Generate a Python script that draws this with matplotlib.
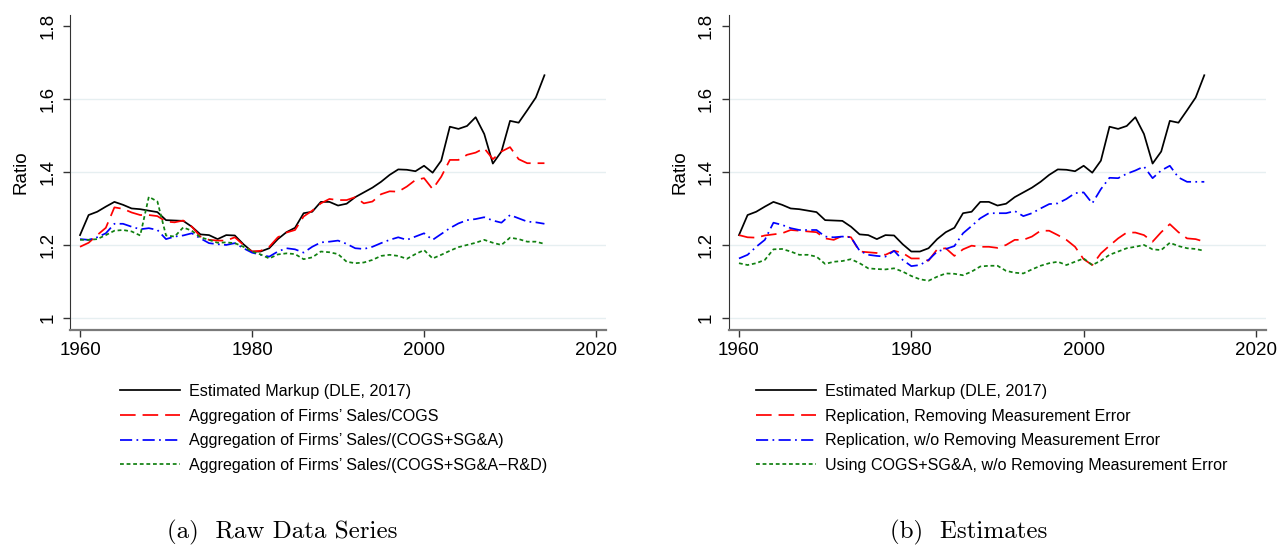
import numpy as np
import matplotlib; matplotlib.use("Agg")
import matplotlib.pyplot as plt

YEARS = list(range(1960, 2015))

# Estimated markup (DLE, 2017), same in both panels
dle = [1.227, 1.282, 1.291, 1.305, 1.318, 1.310, 1.300, 1.298, 1.294, 1.290,
       1.268, 1.267, 1.266, 1.250, 1.229, 1.227, 1.216, 1.227, 1.226, 1.202,
       1.182, 1.182, 1.191, 1.216, 1.235, 1.247, 1.287, 1.291, 1.318, 1.318,
       1.308, 1.313, 1.331, 1.344, 1.357, 1.373, 1.392, 1.407, 1.406, 1.402,
       1.417, 1.398, 1.431, 1.524, 1.518, 1.526, 1.550, 1.504, 1.423, 1.456,
       1.540, 1.535, 1.569, 1.604, 1.665]

# panel (a): raw data series
sales_cogs = [1.195, 1.206, 1.227, 1.247, 1.303, 1.299, 1.289, 1.282, 1.282, 1.279,
              1.264, 1.262, 1.267, 1.250, 1.223, 1.214, 1.212, 1.212, 1.221, 1.200,
              1.182, 1.184, 1.195, 1.221, 1.234, 1.241, 1.278, 1.294, 1.314, 1.326,
              1.323, 1.323, 1.331, 1.314, 1.319, 1.339, 1.347, 1.346, 1.360, 1.378,
              1.383, 1.353, 1.387, 1.433, 1.433, 1.447, 1.453, 1.465, 1.435, 1.456,
              1.468, 1.435, 1.424, 1.424, 1.424]
sales_cogs_sga = [1.216, 1.214, 1.221, 1.232, 1.258, 1.258, 1.250, 1.243, 1.246, 1.241,
                  1.216, 1.223, 1.226, 1.232, 1.218, 1.205, 1.202, 1.200, 1.205, 1.191,
                  1.179, 1.173, 1.168, 1.182, 1.191, 1.188, 1.179, 1.195, 1.207, 1.209,
                  1.212, 1.203, 1.191, 1.189, 1.195, 1.205, 1.214, 1.221, 1.214, 1.223,
                  1.232, 1.214, 1.230, 1.246, 1.259, 1.268, 1.271, 1.276, 1.267, 1.261,
                  1.282, 1.273, 1.264, 1.262, 1.258]
sales_cogs_sga_rd = [1.214, 1.214, 1.216, 1.227, 1.239, 1.241, 1.237, 1.226, 1.332, 1.319,
                     1.226, 1.223, 1.248, 1.239, 1.221, 1.214, 1.206, 1.207, 1.205, 1.195,
                     1.182, 1.174, 1.163, 1.174, 1.177, 1.175, 1.161, 1.166, 1.182, 1.180,
                     1.175, 1.154, 1.150, 1.152, 1.159, 1.170, 1.173, 1.170, 1.162, 1.175,
                     1.186, 1.163, 1.173, 1.184, 1.194, 1.200, 1.206, 1.214, 1.206, 1.200,
                     1.220, 1.216, 1.209, 1.209, 1.203]

# panel (b): estimates
repl_removing = [1.227, 1.221, 1.220, 1.226, 1.229, 1.232, 1.241, 1.239, 1.237, 1.235,
                 1.218, 1.214, 1.225, 1.221, 1.182, 1.180, 1.178, 1.173, 1.184, 1.178,
                 1.163, 1.163, 1.157, 1.188, 1.191, 1.170, 1.188, 1.198, 1.195, 1.195,
                 1.192, 1.200, 1.214, 1.214, 1.223, 1.239, 1.239, 1.227, 1.214, 1.195,
                 1.161, 1.145, 1.177, 1.198, 1.218, 1.234, 1.234, 1.227, 1.209, 1.235,
                 1.257, 1.235, 1.218, 1.216, 1.209]
repl_wo = [1.163, 1.173, 1.195, 1.214, 1.261, 1.255, 1.246, 1.241, 1.241, 1.241,
           1.223, 1.221, 1.223, 1.221, 1.184, 1.173, 1.170, 1.168, 1.184, 1.159,
           1.142, 1.145, 1.159, 1.182, 1.189, 1.197, 1.232, 1.252, 1.273, 1.287,
           1.287, 1.287, 1.293, 1.279, 1.287, 1.300, 1.312, 1.314, 1.326, 1.342,
           1.344, 1.314, 1.353, 1.384, 1.383, 1.395, 1.404, 1.415, 1.383, 1.404,
           1.417, 1.385, 1.373, 1.373, 1.373]
cogs_sga_wo = [1.150, 1.145, 1.150, 1.159, 1.188, 1.189, 1.182, 1.173, 1.173, 1.168,
               1.148, 1.154, 1.156, 1.161, 1.150, 1.136, 1.134, 1.133, 1.136, 1.127,
               1.115, 1.106, 1.102, 1.113, 1.122, 1.121, 1.117, 1.127, 1.141, 1.143,
               1.143, 1.129, 1.124, 1.122, 1.133, 1.143, 1.150, 1.154, 1.145, 1.154,
               1.163, 1.145, 1.157, 1.173, 1.182, 1.191, 1.195, 1.200, 1.188, 1.186,
               1.206, 1.197, 1.191, 1.189, 1.184]

LABELS_A = ["Estimated Markup (DLE, 2017)", "Aggregation of Firms\u2019 Sales/COGS",
            "Aggregation of Firms\u2019 Sales/(COGS+SG&A)",
            "Aggregation of Firms\u2019 Sales/(COGS+SG&A\u2212R&D)"]
LABELS_B = ["Estimated Markup (DLE, 2017)", "Replication, Removing Measurement Error",
            "Replication, w/o Removing Measurement Error",
            "Using COGS+SG&A, w/o Removing Measurement Error"]

STYLES = [dict(color="black", ls="-"),
          dict(color="red", ls=(0, (9, 4))),
          dict(color="blue", ls=(0, (7, 2.5, 1, 2.5))),
          dict(color="#108010", ls=(0, (2.2, 1.6)))]

plt.rcParams.update({"font.family": ["Liberation Sans", "DejaVu Sans"]})

fig = plt.figure(figsize=(12.78, 5.46), dpi=100)
axa = fig.add_axes([0.0548, 0.3956, 0.4194, 0.5769])
axb = fig.add_axes([0.5704, 0.3956, 0.4202, 0.5769])

def style_axis(ax):
    ax.set_xlim(1958.84, 2021.16)
    ax.set_ylim(0.967, 1.83)
    ax.set_xticks([1960, 1980, 2000, 2020])
    ax.set_yticks([1, 1.2, 1.4, 1.6, 1.8])
    ax.set_yticklabels(["1", "1.2", "1.4", "1.6", "1.8"], rotation=90, va="center")
    for v in (1, 1.2, 1.4, 1.6):
        ax.axhline(v, color="#e6eff1", lw=1.0, zorder=0)
    for s in ("top", "right"):
        ax.spines[s].set_visible(False)
    ax.spines["left"].set_color("#333333")
    ax.spines["bottom"].set_color("#7a7a7a")
    ax.spines["bottom"].set_linewidth(1.6)
    ax.tick_params(axis="both", labelsize=13.5, length=5, width=1.0, color="#333333")
    ax.tick_params(axis="y", pad=5)
    ax.set_ylabel("Ratio", fontsize=13.5, labelpad=7)

def draw(ax, series, labels):
    for y, lab, st in zip(series, labels, STYLES):
        ax.plot(YEARS, y, lw=1.25, label=lab, **st)
    style_axis(ax)

draw(axa, [dle, sales_cogs, sales_cogs_sga, sales_cogs_sga_rd], LABELS_A)
draw(axb, [dle, repl_removing, repl_wo, cogs_sga_wo], LABELS_B)

for ax, x0 in ((axa, 0.094), (axb, 0.5915)):
    h, l = ax.get_legend_handles_labels()
    fig.legend(h, l, loc="upper left", bbox_to_anchor=(x0, 0.297), frameon=False,
               fontsize=11.6, handlelength=3.7, handletextpad=0.56, labelspacing=0.6,
               borderpad=0, borderaxespad=0)

fig.text(0.221, 0.024, "(a)  Raw Data Series", family="cmr10", fontsize=18, ha="center", va="center")
fig.text(0.758, 0.024, "(b)  Estimates", family="cmr10", fontsize=18, ha="center", va="center")

fig.savefig("out.png", dpi=100)
